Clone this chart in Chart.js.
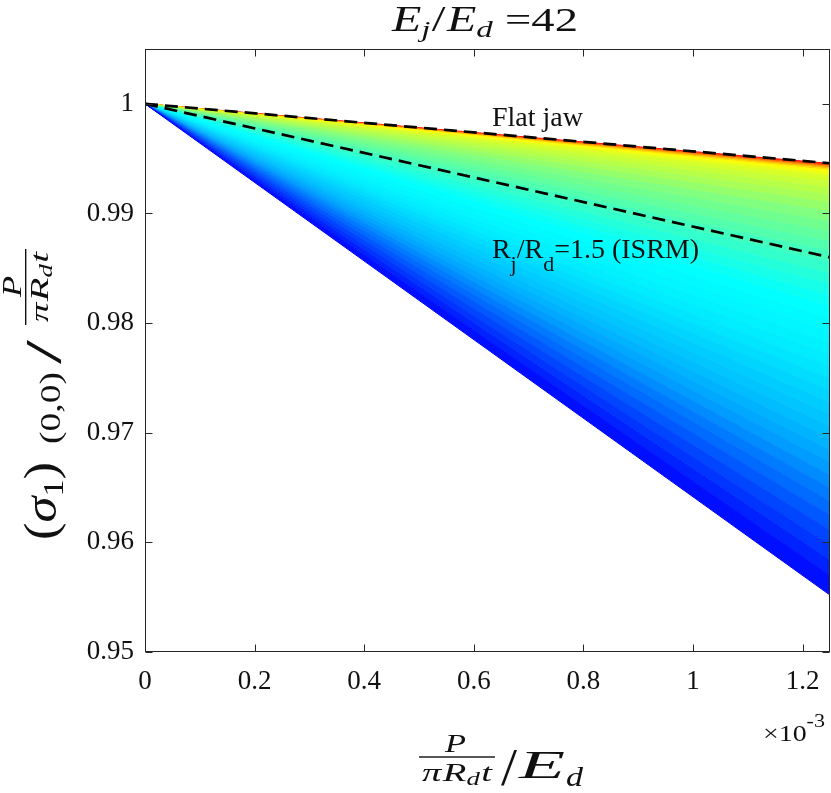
<!DOCTYPE html>
<html>
<head>
<meta charset="utf-8">
<script src="https://cdn.jsdelivr.net/npm/chart.js@4.4.1/dist/chart.umd.min.js"></script>
<style>
  html, body { margin: 0; padding: 0; background: #fff; }
  canvas { display: block; }
</style>
</head>
<body>
<canvas id="chart" width="831" height="793"></canvas>
<script>
// axis ticks (x in units of 1e-3)
const xTicks = [0, 0.2, 0.4, 0.6, 0.8, 1, 1.2];
const yTicks = [0.95, 0.96, 0.97, 0.98, 0.99, 1];
const xMax = 1.25e-3;

// fan of curves: value at x = 1.25e-3 (bottom -> top), all start at (0, 1)
const fanEnd = [
  0.95519, 0.95701, 0.95838, 0.95974, 0.96111, 0.96248, 0.96375, 0.96494,
  0.96612, 0.96730, 0.96840, 0.96949, 0.97058, 0.97168, 0.97277, 0.97386,
  0.97495, 0.97605, 0.97714, 0.97823, 0.97933, 0.98042, 0.98151, 0.98251,
  0.98352, 0.98452, 0.98552, 0.98652, 0.98743, 0.98834, 0.98925, 0.99016,
  0.99098, 0.99171, 0.99235, 0.99290, 0.99335, 0.99362, 0.99381, 0.99394,
  0.99408, 0.99420, 0.99431, 0.99441, 0.99449, 0.99456
];
const fanColor = [
  '#0000ff', '#000fff', '#0022ff', '#0034ff', '#0046ff', '#0059ff', '#006bff', '#007bff',
  '#008cff', '#009cff', '#00a8ff', '#00b3ff', '#00bdff', '#00c5ff', '#00cdff', '#00d5ff',
  '#00ddff', '#00e6ff', '#00ecff', '#00f2ff', '#00f7ff', '#00fbff', '#00ffff', '#0afff5',
  '#17ffe8', '#24ffdb', '#33ffcc', '#42ffbd', '#52ffad', '#61ff9e', '#70ff8f', '#80ff80',
  '#94ff6b', '#a8ff57', '#b8ff47', '#c7ff38', '#d6ff29', '#e6ff1a', '#f5ff0a', '#fffa00',
  '#ffdb00', '#ffb300', '#ff8a00', '#ff5700', '#ff2900', '#ff0000'
];

// reference curves (dashed)
const flatJawEnd = 0.99458;
const isrmEnd = 0.9860;

const SERIF = "'Liberation Serif', LiberationSerif, Tinos, 'Times New Roman', 'Nimbus Roman', FreeSerif, 'DejaVu Serif', 'Noto Serif', serif";
const rm = s => s + 'px ' + SERIF;
const it = s => 'italic ' + s + 'px ' + SERIF;
const INK = '#111';

function runsWidth(ctx, parts) {
  let w = 0;
  for (const p of parts) { ctx.font = p.f; w += ctx.measureText(p.s).width + (p.gap || 0); }
  return w;
}
// draw a run of text pieces starting at x, stretched horizontally to width w (if given)
function drawRuns(ctx, x, y, parts, w) {
  const nat = runsWidth(ctx, parts);
  const sx = w ? w / nat : 1;
  ctx.save();
  ctx.translate(x, y);
  ctx.scale(sx, 1);
  let cx = 0;
  for (const p of parts) {
    ctx.font = p.f;
    ctx.fillText(p.s, cx, p.dy || 0);
    cx += ctx.measureText(p.s).width + (p.gap || 0);
  }
  ctx.restore();
  return x + nat * sx;
}

const decor = {
  id: 'decor',
  afterDraw(chart) {
    const { ctx, chartArea: a, scales } = chart;
    const xs = scales.x, ys = scales.y;
    ctx.save();

    // box + inward ticks on all sides
    ctx.strokeStyle = '#262626';
    ctx.lineWidth = 1;
    const L = Math.round(a.left) + 0.5, R = Math.round(a.right) - 0.5;
    const T = Math.round(a.top) + 0.5, B = Math.round(a.bottom) - 0.5;
    ctx.strokeRect(L, T, R - L, B - T);
    ctx.beginPath();
    for (const t of xTicks) {
      const px = Math.round(xs.getPixelForValue(t * 1e-3)) + 0.5;
      ctx.moveTo(px, B); ctx.lineTo(px, B - 7);
      ctx.moveTo(px, T); ctx.lineTo(px, T + 7);
    }
    for (const t of yTicks) {
      const py = Math.round(ys.getPixelForValue(t)) + 0.5;
      ctx.moveTo(L, py); ctx.lineTo(L + 7, py);
      ctx.moveTo(R, py); ctx.lineTo(R - 7, py);
    }
    ctx.stroke();

    ctx.fillStyle = INK;
    ctx.textBaseline = 'alphabetic';
    ctx.textAlign = 'left';

    // title  E_j/E_d =42
    drawRuns(ctx, 392, 31, [
      { s: 'E', f: it(35) }, { s: 'j', f: it(24), dy: 6, gap: 1 }, { s: '/', f: rm(36), gap: 1 },
      { s: 'E', f: it(35) }, { s: 'd', f: it(24), dy: 6, gap: 9 }, { s: '=42', f: rm(34) }
    ], 186);

    // x label  (P / pi R_d t) / E_d
    drawRuns(ctx, 445, 752, [{ s: 'P', f: it(26) }], 21);
    drawRuns(ctx, 422, 781, [
      { s: 'π', f: it(26), gap: 1 }, { s: 'R', f: it(26) }, { s: 'd', f: it(18), dy: 4, gap: 1 }, { s: 't', f: it(26) }
    ], 70);
    ctx.fillRect(419, 756.3, 76, 1.4);
    drawRuns(ctx, 501, 785, [{ s: '/', f: rm(52) }], 16);
    drawRuns(ctx, 519, 778, [{ s: 'E', f: it(40) }], 46);
    drawRuns(ctx, 566, 786, [{ s: 'd', f: it(27) }], 17);

    // exponent
    drawRuns(ctx, 763, 741, [{ s: '×10', f: rm(24) }, { s: '-3', f: rm(19), dy: -14 }], 62);

    // y label (rotated): screen y = -x', screen x = 56 + y'
    ctx.save();
    ctx.translate(56, 0);
    ctx.rotate(-Math.PI / 2);
    drawRuns(ctx, -540, 0, [
      { s: '(', f: rm(46) }, { s: 'σ', f: it(46) }, { s: '1', f: rm(30), dy: 7 }, { s: ')', f: rm(46) }
    ], 78);
    drawRuns(ctx, -444, 4, [{ s: '(0,0)', f: rm(29) }], 72);
    drawRuns(ctx, -364, 4, [{ s: '/', f: rm(50) }], 24);
    drawRuns(ctx, -322, -8, [
      { s: 'π', f: it(26), gap: 1 }, { s: 'R', f: it(26) }, { s: 'd', f: it(18), dy: 4, gap: 1 }, { s: 't', f: it(26) }
    ], 70);
    ctx.fillRect(-325, -31, 76, 1.4);
    drawRuns(ctx, -297, -35, [{ s: 'P', f: it(27) }], 21);
    ctx.restore();

    // annotations at data coordinates
    ctx.font = rm(28);
    ctx.fillText('Flat jaw', xs.getPixelForValue(0.633e-3), ys.getPixelForValue(0.998));
    drawRuns(ctx, xs.getPixelForValue(0.633e-3), ys.getPixelForValue(0.98597), [
      { s: 'R', f: rm(28) }, { s: 'j', f: rm(22), dy: 13 }, { s: '/R', f: rm(28) },
      { s: 'd', f: rm(22), dy: 13 }, { s: '=1.5 (ISRM)', f: rm(28) }
    ]);
    ctx.restore();
  }
};

function build() {
  const datasets = fanEnd.map((e, i) => ({
    data: [{ x: 0, y: 1 }, { x: xMax, y: e }],
    borderColor: fanColor[i],
    backgroundColor: fanColor[i],
    borderWidth: 1,
    pointRadius: 0,
    fill: i === 0 ? false : '-1',
    order: 2
  }));
  datasets.push({
    data: [{ x: 0, y: 1 }, { x: xMax, y: flatJawEnd }],
    borderColor: '#000', borderDash: [13, 7], borderWidth: 2.7,
    pointRadius: 0, fill: false, order: 0
  });
  datasets.push({
    data: [{ x: 0, y: 1 }, { x: xMax, y: isrmEnd }],
    borderColor: '#000', borderDash: [13, 7], borderWidth: 2.7,
    pointRadius: 0, fill: false, order: 0
  });

  new Chart(document.getElementById('chart'), {
    type: 'line',
    data: { datasets },
    options: {
      responsive: false,
      animation: false,
      layout: { padding: { top: 49, right: 1, left: 0, bottom: 0 } },
      plugins: { legend: { display: false }, tooltip: { enabled: false }, title: { display: false } },
      scales: {
        x: {
          type: 'linear', min: 0, max: xMax,
          grid: { display: false, drawTicks: false },
          border: { display: false },
          afterBuildTicks: s => { s.ticks = xTicks.map(v => ({ value: v * 1e-3 })); },
          afterFit: s => { s.height = 141; s.paddingLeft = 0; s.paddingRight = 0; },
          ticks: {
            padding: 14, color: INK, maxRotation: 0, autoSkip: false,
            font: { family: SERIF, size: 27 },
            callback: v => String(Math.round(v * 1e4) / 10)
          }
        },
        y: {
          type: 'linear', min: 0.95, max: 1.005,
          grid: { display: false, drawTicks: false },
          border: { display: false },
          afterBuildTicks: s => { s.ticks = yTicks.map(v => ({ value: v })); },
          afterFit: s => { s.width = 145; s.paddingTop = 0; s.paddingBottom = 0; },
          ticks: {
            padding: 11, color: INK, autoSkip: false,
            font: { family: SERIF, size: 27 },
            callback: v => String(Math.round(v * 100) / 100)
          }
        }
      }
    },
    plugins: [decor]
  });
}

if (document.fonts && document.fonts.load) {
  Promise.all([
    document.fonts.load(rm(27)), document.fonts.load(it(27))
  ]).then(build, build);
} else {
  build();
}
</script>
</body>
</html>
